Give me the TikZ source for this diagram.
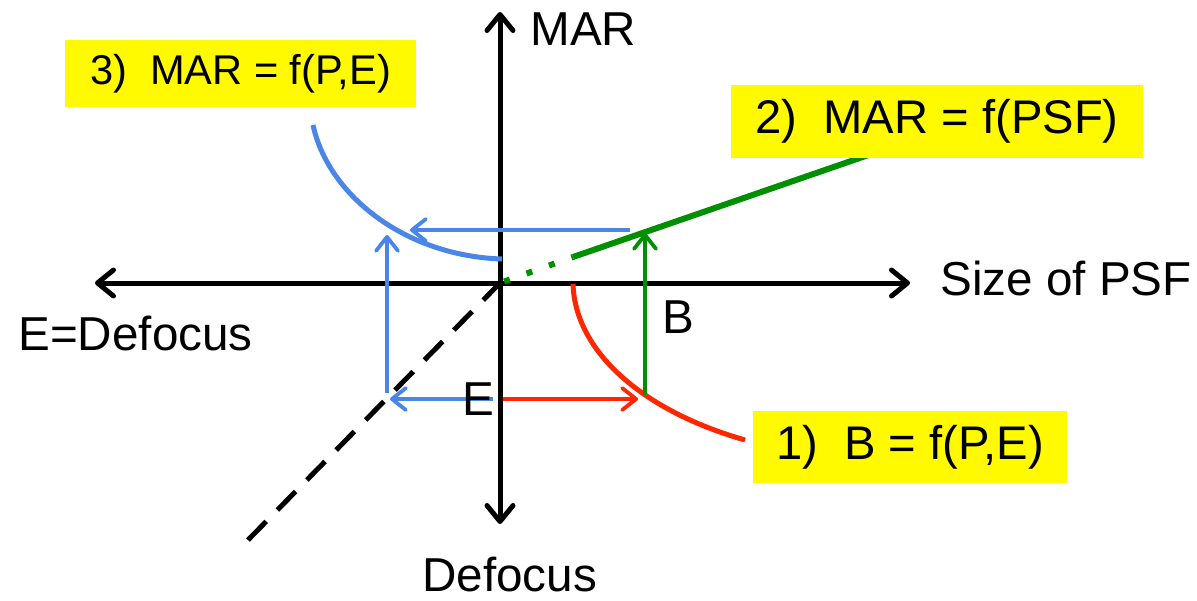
\documentclass[tikz,border=0pt]{standalone}
\usepackage{fontspec}
\setmainfont{Liberation Sans}
\usetikzlibrary{arrows.meta}
\definecolor{cblue}{HTML}{4A86E8}
\definecolor{cred}{HTML}{FF2600}
\definecolor{cgreen}{HTML}{008F00}
\definecolor{cyellow}{HTML}{FFFA00}
\begin{document}
\begin{tikzpicture}[x=0.5pt,y=-0.5pt,
  barb/.tip={Straight Barb[length=8pt,width=13pt,line cap=round,line join=round]},
  sbarb/.tip={Straight Barb[length=7pt,width=11pt,line cap=round,line join=round]},
  axis/.style={line width=2.5pt,barb-barb},
  thinarrow/.style={line width=1.9pt,-sbarb},
  lbl/.style={font=\fontsize{23.8}{28}\selectfont,inner sep=0,anchor=base west},
  ybox/.style={fill=cyellow,inner sep=0,font=\fontsize{23.6}{28}\selectfont}]
\useasboundingbox (0,0) rectangle (1197,600);
% coordinates
\coordinate (O) at (500,283);
\coordinate (axL) at (95,283);
\coordinate (axR) at (910,283);
\coordinate (axT) at (500,12);
\coordinate (axB) at (500,524);
\coordinate (D) at (248,540);
\coordinate (G1) at (573,257);
\coordinate (G2) at (880,151);
\coordinate (b3s) at (313,125);
\coordinate (b3e) at (502,259);
\coordinate (r1s) at (573,284);
\coordinate (r1e) at (745,440);
\coordinate (bh1) at (630,230);
\coordinate (bh2) at (410,230);
\coordinate (bv1) at (387,393);
\coordinate (bv2) at (387,235);
\coordinate (bl1) at (493,399);
\coordinate (bl2) at (390,399);
\coordinate (ra1) at (503,399);
\coordinate (ra2) at (638,399);
\coordinate (ga1) at (645,395);
\coordinate (ga2) at (645,233);
% dashed diagonal
\draw[line width=2.5pt,dash pattern=on 13pt off 8pt] (D) -- (O);
% axes
\draw[axis] (axL) -- (axR);
\draw[axis] (axT) -- (axB);
% curves
\draw[cblue,line width=2.5pt] (b3s) .. controls (328,195) and (405,256) .. (b3e);
\draw[cred,line width=2.5pt] (r1s) .. controls (575,350) and (640,410) .. (r1e);
\draw[cgreen,line width=3pt,dash pattern=on 3pt off 8.9pt,dash phase=9.7pt] (O) -- (G1);
\draw[cgreen,line width=3pt] (G1) -- (G2);
% arrows
\draw[thinarrow,cblue] (bh1) -- (bh2);
\draw[thinarrow,cblue] (bv1) -- (bv2);
\draw[thinarrow,cblue] (bl1) -- (bl2);
\draw[thinarrow,cred] (ra1) -- (ra2);
\draw[thinarrow,cgreen] (ga1) -- (ga2);
% labels
\node[lbl] (mar) at (530,45) {MAR};
\node[lbl] (size) at (940,295) {Size of PSF};
\node[lbl] (edef) at (18,350) {E=Defocus};
\node[lbl] (defoc) at (422,591) {Defocus};
\node[lbl] (B) at (662,333) {B};
\node[lbl] (E) at (462,415) {E};
% boxes
\node[ybox,minimum width=175.5pt,minimum height=33.5pt,font=\fontsize{20.8}{25}\selectfont] (box3) at (240.5,73.5) {3)\ \ MAR = f(P,E)};
\node[ybox,minimum width=206pt,minimum height=36.5pt] (box2) at (937,121.5) {2)\ \ MAR = f(PSF)};
\node[ybox,minimum width=157pt,minimum height=36pt] (box1) at (910,447) {1)\ \ B = f(P,E)};
\end{tikzpicture}
\end{document}
